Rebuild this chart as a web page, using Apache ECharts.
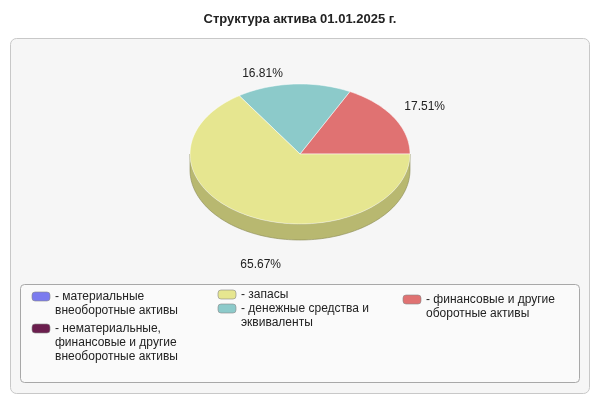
<!DOCTYPE html>
<html><head><meta charset="utf-8">
<script src="https://cdn.jsdelivr.net/npm/echarts@6/dist/echarts.min.js"></script>
<style>html,body{margin:0;padding:0;background:#fff}#c{width:600px;height:400px}</style>
</head><body><div id="c"></div>
<script>
// slices, counter-clockwise from 3 o'clock
const sliceNames = ['финансовые и другие оборотные активы', 'денежные средства и эквиваленты', 'запасы'];
const sliceValues = [17.51, 16.81, 65.67];
const sliceColors = ['#e07272', '#8ccaca', '#e6e690'];
const sideColors = ['#b45a5a', '#6ea2a2', '#b8b870'];
const labelOffsets = [[14, -4], [-30, 2], [22, 38]];

const legendItems = [
  { text: '- материальные\nвнеоборотные активы', color: '#7b7bef', x: 32, y: 292 },
  { text: '- нематериальные,\nфинансовые и другие\nвнеоборотные активы', color: '#6b1e4e', x: 32, y: 324 },
  { text: '- запасы', color: '#e6e690', x: 218, y: 290 },
  { text: '- денежные средства и\nэквиваленты', color: '#8ccaca', x: 218, y: 304 },
  { text: '- финансовые и другие\nоборотные активы', color: '#e07272', x: 403, y: 295 }
];

const cx = 300, cy = 154, rx = 110, ry = 70, depth = 16;
const total = sliceValues.reduce((a, b) => a + b, 0);
const starts = [];
let acc = 0;
for (let i = 0; i < sliceValues.length; i++) { starts.push(acc); acc += sliceValues[i] / total * Math.PI * 2; }

function pt(a, dy) { return [cx + rx * Math.cos(a), cy - ry * Math.sin(a) + (dy || 0)]; }
function arc(a0, a1, dy) {
  const pts = [], n = Math.max(2, Math.ceil((a1 - a0) / 0.03));
  for (let k = 0; k <= n; k++) pts.push(pt(a0 + (a1 - a0) * k / n, dy));
  return pts;
}

function renderSide(params, api) {
  const i = params.dataIndex;
  const a0 = starts[i], a1 = a0 + api.value(0) / total * Math.PI * 2;
  const s = Math.max(a0, Math.PI), e = Math.min(a1, Math.PI * 2);
  const children = [];
  if (e > s) {
    const top = arc(s, e, 0), bot = arc(s, e, depth).reverse();
    children.push({ type: 'polygon', shape: { points: top.concat(bot) }, style: { fill: sideColors[i], stroke: '#8a8a55', lineWidth: 0.6 } });
  }
  if (a0 < 0.02) {
    children.push({ type: 'polygon', shape: { points: [pt(0, 0), pt(0, depth), pt(-0.04, depth), pt(-0.04, 0)] }, style: { fill: sideColors[i] } });
  }
  return { type: 'group', children: children };
}

function renderTop(params, api) {
  const i = params.dataIndex;
  const a0 = starts[i], a1 = a0 + api.value(0) / total * Math.PI * 2;
  const pts = [[cx, cy]].concat(arc(a0, a1, 0));
  const m = (a0 + a1) / 2;
  const lp = [cx + rx * 1.18 * Math.cos(m) + labelOffsets[i][0], cy - ry * 1.18 * Math.sin(m) + labelOffsets[i][1]];
  return { type: 'group', children: [
    { type: 'polygon', shape: { points: pts }, style: { fill: sliceColors[i], stroke: '#ffffff', lineWidth: 0.5 } },
    { type: 'text', x: lp[0], y: lp[1], style: { text: api.value(0).toFixed(2) + '%', fill: '#222', font: '12px Arial', align: 'center', verticalAlign: 'middle' } }
  ] };
}

const data = sliceValues.map((v, i) => ({ name: sliceNames[i], value: [v] }));
const graphics = [
  { type: 'rect', z: -10, shape: { x: 10.5, y: 38.5, width: 579, height: 355, r: 6 }, style: { fill: '#f6f6f6', stroke: '#c8c8c8' } },
  { type: 'rect', z: -9, shape: { x: 20.5, y: 284.5, width: 559, height: 98, r: 4 }, style: { fill: '#fafafa', stroke: '#a8a8a8' } }
];
legendItems.forEach(it => {
  graphics.push({ type: 'rect', shape: { x: it.x, y: it.y, width: 18, height: 9, r: 3 }, style: { fill: it.color, stroke: '#888', lineWidth: 0.6 } });
  graphics.push({ type: 'text', x: it.x + 23, y: it.y - 2, style: { text: it.text, fill: '#222', font: '12px Arial', lineHeight: 14 } });
});

const chart = echarts.init(document.getElementById('c'));
chart.setOption({
  animation: false,
  title: { text: 'Структура актива 01.01.2025 г.', left: 'center', top: 8, textStyle: { fontSize: 13, fontWeight: 'bold', color: '#222', fontFamily: 'Arial' } },
  graphic: graphics,
  series: [
    { type: 'custom', coordinateSystem: 'none', z: 1, data: data, renderItem: renderSide },
    { type: 'custom', coordinateSystem: 'none', z: 2, data: data, renderItem: renderTop }
  ]
});
</script></body></html>
